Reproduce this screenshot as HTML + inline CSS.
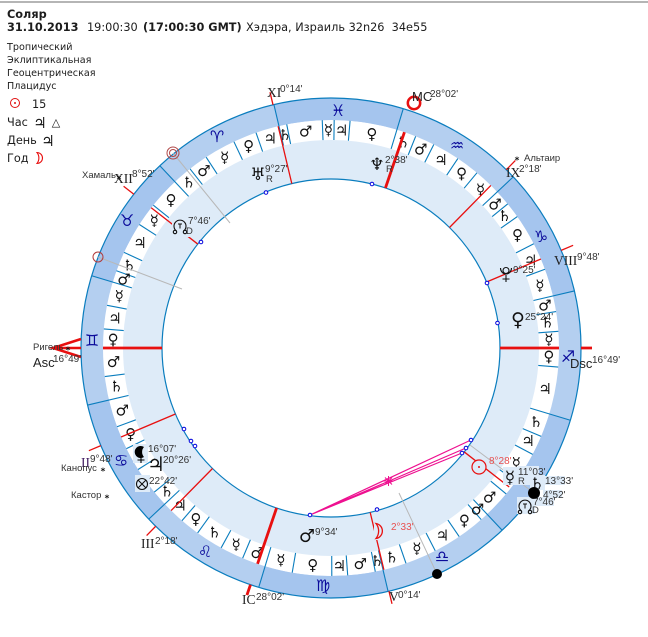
<!DOCTYPE html>
<html><head><meta charset="utf-8">
<style>
html,body{margin:0;padding:0;background:#fff;width:648px;height:637px;overflow:hidden}
svg{display:block}
text{font-family:"DejaVu Sans","Liberation Sans",sans-serif;fill:#1c1c1c}
.h{font-size:11.3px}.b{font-size:11.3px;font-weight:bold}
.m{font-size:9.6px}
.p text,.p{font-size:15px;text-anchor:middle;fill:#111}
.z text,.z{font-size:16px;text-anchor:middle;fill:#0a0a9a}
.d{font-family:"Liberation Sans",sans-serif;font-size:10px;fill:#333}
.r{font-family:"Liberation Serif",serif;font-size:13.5px;fill:#222}
.a{font-family:"Liberation Sans",sans-serif;font-size:13px;fill:#222}
.n{font-family:"Liberation Sans",sans-serif;font-size:9.5px;fill:#333}
.g{text-anchor:middle;fill:#111}
</style></head><body>
<svg width="648" height="637" viewBox="0 0 648 637" xmlns="http://www.w3.org/2000/svg">
<rect x="0" y="1" width="648" height="2" fill="#b5b5b5"/>
<text class="b" x="7" y="18">Соляр</text>
<text class="b" x="7" y="31">31.10.2013</text>
<text class="h" x="87" y="31">19:00:30</text>
<text class="b" x="143" y="31">(17:00:30 GMT)</text>
<text class="h" x="246" y="31">Хэдэра, Израиль 32n26 &#160;34e55</text>
<text class="m" x="7" y="50">Тропический</text>
<text class="m" x="7" y="63">Эклиптикальная</text>
<text class="m" x="7" y="76">Геоцентрическая</text>
<text class="m" x="7" y="89">Плацидус</text>
<circle cx="15" cy="103" r="4.5" fill="none" stroke="#e01010"/><circle cx="15" cy="103" r="1" fill="#e01010"/>
<text class="h" x="32" y="108">15</text>
<text class="h" x="7" y="126">Час</text><text class="g" x="40" y="128" font-size="15">♃</text><text class="g" x="56" y="126" font-size="11">△</text>
<text class="h" x="7" y="144">День</text><text class="g" x="48" y="146" font-size="15">♃</text>
<text class="h" x="7" y="162">Год</text>
<path d="M37 152.500A5.500 5.500 0 0 1 37 163.500A9 9 0 0 0 37 152.500Z" fill="none" stroke="#e81010" stroke-width="1.100"/>

<g transform="translate(331,348)">
<circle r="239" fill="none" stroke="#b4cff0" stroke-width="22"/>
<g fill="#a5c5ee">
<path id="sec" d="M-250 0A250 250 0 0 1 -216.500 -125L-197.500 -114A228 228 0 0 0 -228 0Z" transform="rotate(16.8)"/>
<use href="#sec" transform="rotate(-60)"/><use href="#sec" transform="rotate(-120)"/><use href="#sec" transform="rotate(-180)"/><use href="#sec" transform="rotate(-240)"/><use href="#sec" transform="rotate(-300)"/>
</g>
<circle r="188.5" fill="none" stroke="#deebf8" stroke-width="39"/>
<circle r="250" fill="none" stroke="#0a7dbe" stroke-width="1.2"/>
<circle r="169" fill="none" stroke="#0a7dbe" stroke-width="1.2"/>

<defs><path id="s" d="M-208 0H-250" stroke="#0a7dbe" stroke-width="1.1"/><path id="t" d="M-208 0H-228" stroke="#0a7dbe" stroke-width="1.1"/></defs>
<!-- sign boundaries -->
<use href="#s" transform="rotate(76.8)"/><use href="#s" transform="rotate(46.8)"/><use href="#s" transform="rotate(16.8)"/><use href="#s" transform="rotate(-13.2)"/><use href="#s" transform="rotate(-43.2)"/><use href="#s" transform="rotate(-73.2)"/><use href="#s" transform="rotate(-103.2)"/><use href="#s" transform="rotate(-133.2)"/><use href="#s" transform="rotate(-163.2)"/><use href="#s" transform="rotate(-193.2)"/><use href="#s" transform="rotate(-223.2)"/><use href="#s" transform="rotate(-253.2)"/>
<!-- term lines -->
<use href="#t" transform="rotate(70.8)"/><use href="#t" transform="rotate(64.8)"/><use href="#t" transform="rotate(56.8)"/><use href="#t" transform="rotate(51.8)"/>
<use href="#t" transform="rotate(38.8)"/><use href="#t" transform="rotate(32.8)"/><use href="#t" transform="rotate(24.8)"/><use href="#t" transform="rotate(19.8)"/>
<use href="#t" transform="rotate(10.8)"/><use href="#t" transform="rotate(4.8)"/><use href="#t" transform="rotate(-7.2)"/>
<use href="#t" transform="rotate(-20.2)"/><use href="#t" transform="rotate(-26.2)"/><use href="#t" transform="rotate(-32.2)"/><use href="#t" transform="rotate(-39.2)"/>
<use href="#t" transform="rotate(-49.2)"/><use href="#t" transform="rotate(-54.2)"/><use href="#t" transform="rotate(-61.2)"/><use href="#t" transform="rotate(-67.2)"/>
<use href="#t" transform="rotate(-80.2)"/><use href="#t" transform="rotate(-90.2)"/><use href="#t" transform="rotate(-94.2)"/><use href="#t" transform="rotate(-101.2)"/>
<use href="#t" transform="rotate(-109.2)"/><use href="#t" transform="rotate(-117.2)"/><use href="#t" transform="rotate(-124.2)"/><use href="#t" transform="rotate(-131.2)"/>
<use href="#t" transform="rotate(-140.2)"/><use href="#t" transform="rotate(-144.2)"/><use href="#t" transform="rotate(-152.2)"/><use href="#t" transform="rotate(-157.2)"/>
<use href="#t" transform="rotate(-175.2)"/><use href="#t" transform="rotate(-184.2)"/><use href="#t" transform="rotate(-189.2)"/>
<use href="#t" transform="rotate(-200.2)"/><use href="#t" transform="rotate(-207.2)"/><use href="#t" transform="rotate(-215.2)"/><use href="#t" transform="rotate(-219.2)"/>
<use href="#t" transform="rotate(-230.2)"/><use href="#t" transform="rotate(-236.2)"/><use href="#t" transform="rotate(-243.2)"/><use href="#t" transform="rotate(-248.2)"/>
<use href="#t" transform="rotate(-265.2)"/><use href="#t" transform="rotate(-269.2)"/><use href="#t" transform="rotate(-272.2)"/><use href="#t" transform="rotate(-281.2)"/>

<!-- term glyphs -->
<g class="p">
<text y="5" transform="rotate(73.8) translate(-218) rotate(-73.8)">♃</text><text y="5" transform="rotate(67.8) translate(-218) rotate(-67.8)">♀</text><text y="5" transform="rotate(60.8) translate(-218) rotate(-60.8)">☿</text><text y="5" transform="rotate(54.3) translate(-218) rotate(-54.3)">♂</text><text y="5" transform="rotate(49.3) translate(-218) rotate(-49.3)">♄</text>
<text y="5" transform="rotate(42.8) translate(-218) rotate(-42.8)">♀</text><text y="5" transform="rotate(35.8) translate(-218) rotate(-35.8)">☿</text><text y="5" transform="rotate(28.8) translate(-218) rotate(-28.8)">♃</text><text y="5" transform="rotate(22.3) translate(-218) rotate(-22.3)">♄</text><text y="5" transform="rotate(18.3) translate(-218) rotate(-18.3)">♂</text>
<text y="5" transform="rotate(13.8) translate(-218) rotate(-13.8)">☿</text><text y="5" transform="rotate(7.8) translate(-218) rotate(-7.8)">♃</text><text y="5" transform="rotate(2.3) translate(-218) rotate(-2.3)">♀</text><text y="5" transform="rotate(-3.7) translate(-218) rotate(3.7)">♂</text><text y="5" transform="rotate(-10.2) translate(-218) rotate(10.2)">♄</text>
<text y="5" transform="rotate(-16.7) translate(-218) rotate(16.7)">♂</text><text y="5" transform="rotate(-23.2) translate(-218) rotate(23.2)">♀</text><text y="5" transform="rotate(-41.2) translate(-218) rotate(41.2)">♄</text>
<text y="5" transform="rotate(-46.2) translate(-218) rotate(46.2)">♃</text><text y="5" transform="rotate(-51.7) translate(-218) rotate(51.7)">♀</text><text y="5" transform="rotate(-57.7) translate(-218) rotate(57.7)">♄</text><text y="5" transform="rotate(-64.2) translate(-218) rotate(64.2)">☿</text><text y="5" transform="rotate(-70.2) translate(-218) rotate(70.2)">♂</text>
<text y="5" transform="rotate(-76.7) translate(-218) rotate(76.7)">☿</text><text y="5" transform="rotate(-85.2) translate(-218) rotate(85.2)">♀</text><text y="5" transform="rotate(-92.2) translate(-218) rotate(92.2)">♃</text><text y="5" transform="rotate(-97.7) translate(-218) rotate(97.7)">♂</text><text y="5" transform="rotate(-102.2) translate(-218) rotate(102.2)">♄</text>
<text y="5" transform="rotate(-106.2) translate(-218) rotate(106.2)">♄</text><text y="5" transform="rotate(-113.2) translate(-218) rotate(113.2)">☿</text><text y="5" transform="rotate(-120.7) translate(-218) rotate(120.7)">♃</text><text y="5" transform="rotate(-127.7) translate(-218) rotate(127.7)">♀</text><text y="5" transform="rotate(-132.2) translate(-218) rotate(132.2)">♂</text>
<text y="5" transform="rotate(-136.7) translate(-218) rotate(136.7)">♂</text><text y="5" transform="rotate(-148.2) translate(-218) rotate(148.2)">☿</text><text y="5" transform="rotate(-154.7) translate(-218) rotate(154.7)">♃</text><text y="5" transform="rotate(-160.2) translate(-218) rotate(160.2)">♄</text>
<text y="5" transform="rotate(-169.2) translate(-218) rotate(169.2)">♃</text><text y="5" transform="rotate(-177.7) translate(-218) rotate(177.7)">♀</text><text y="5" transform="rotate(-182.2) translate(-218) rotate(182.2)">☿</text><text y="5" transform="rotate(-186.7) translate(-218) rotate(186.7)">♄</text><text y="5" transform="rotate(-191.2) translate(-218) rotate(191.2)">♂</text>
<text y="5" transform="rotate(-196.7) translate(-218) rotate(196.7)">☿</text><text y="5" transform="rotate(-203.7) translate(-218) rotate(203.7)">♃</text><text y="5" transform="rotate(-211.2) translate(-218) rotate(211.2)">♀</text><text y="5" transform="rotate(-217.2) translate(-218) rotate(217.2)">♄</text><text y="5" transform="rotate(-221.2) translate(-218) rotate(221.2)">♂</text>
<text y="5" transform="rotate(-226.7) translate(-218) rotate(226.7)">☿</text><text y="5" transform="rotate(-233.2) translate(-218) rotate(233.2)">♀</text><text y="5" transform="rotate(-239.7) translate(-218) rotate(239.7)">♃</text><text y="5" transform="rotate(-245.7) translate(-218) rotate(245.7)">♂</text><text y="5" transform="rotate(-250.7) translate(-218) rotate(250.7)">♄</text>
<text y="5" transform="rotate(-259.2) translate(-218) rotate(259.2)">♀</text><text y="5" transform="rotate(-267.2) translate(-218) rotate(267.2)">♃</text><text y="5" transform="rotate(-270.7) translate(-218) rotate(270.7)">☿</text><text y="5" transform="rotate(-276.7) translate(-218) rotate(276.7)">♂</text><text y="5" transform="rotate(-282.2) translate(-218) rotate(282.2)">♄</text>
</g>

<!-- house cusps -->
<defs>
<path id="c1" d="M-169 0H-228M-250 0H-263" stroke="#e81010" stroke-width="1.3"/>
<path id="c2" d="M-169 0H-228M-250 0H-261" stroke="#e81010" stroke-width="2.8"/>
</defs>
<use href="#c1" transform="rotate(76.59)"/><use href="#c1" transform="rotate(37.95)"/><use href="#c1" transform="rotate(134.52)"/><use href="#c1" transform="rotate(157.02)"/><use href="#c1" transform="rotate(-22.98)"/><use href="#c1" transform="rotate(-45.48)"/><use href="#c1" transform="rotate(-103.41)"/>
<path d="M-169 0H-226" stroke="#e81010" stroke-width="1.3" transform="rotate(-142.05)"/>
<use href="#c2" transform="rotate(-71.21)"/>
<path d="M-169 0H-228" stroke="#e81010" stroke-width="2.8" transform="rotate(108.79)"/>
<path d="M-169 0H-228M-250 0H-261" stroke="#e81010" stroke-width="2.8" transform="rotate(180)"/>
<path d="M-169 0H-228" stroke="#e81010" stroke-width="2.8"/>
</g>

<path d="M81 339L53 348L81 357M53 348H81" fill="none" stroke="#e81010" stroke-width="2.5"/>
<circle cx="414" cy="103" r="6.2" fill="none" stroke="#e81010" stroke-width="2.5"/>

<!-- grey lines -->
<g stroke="#b8b8b8" stroke-width="1" fill="none">
<path d="M98 257L182 289M173 153L230 223M437 574L399 493M534 493L470 445"/>
</g>
<circle cx="98" cy="257" r="5" fill="none" stroke="#b03a3a"/>
<circle cx="173" cy="153" r="6" fill="none" stroke="#b04848"/><circle cx="173" cy="153" r="3.5" fill="none" stroke="#b04848"/>
<circle cx="437" cy="574" r="5" fill="#000"/>

<!-- aspects -->
<g stroke="#ee1090" stroke-width="1.2" fill="none">
<path d="M310 515L462 453M310 515L466 448M310 515L471 440"/>
<path d="M383 481H394M388.500 476V486M385 477.500L392 484.500M385 484.500L392 477.500" stroke-width="1"/>
</g>

<!-- sign glyphs -->
<g class="z">
<text x="217" y="142">♈</text><text x="127" y="226">♉</text><text x="92" y="346">♊</text><text x="121" y="466">♋</text><text x="205" y="557">♌</text><text x="323" y="591">♍</text><text x="442" y="562">♎</text><text x="568" y="362">♐</text><text x="541" y="242">♑</text><text x="457" y="151">♒</text><text x="338" y="116">♓</text>
</g>

<!-- label backgrounds -->
<g fill="#deebf8">
<rect x="172" y="217" width="20" height="20"/>
<rect x="133" y="444" width="15" height="19"/>
<rect x="135" y="475" width="15" height="17"/>
<rect x="503" y="467" width="15" height="18"/>
<rect x="518" y="466" width="21" height="19"/>
<rect x="530" y="475" width="15" height="15"/>
<rect x="545" y="476" width="20" height="9"/>
<rect x="517" y="497" width="18" height="17"/>
<rect x="533" y="497" width="21" height="9"/>
<rect x="543" y="490" width="19" height="8"/>
<rect x="374" y="522" width="16" height="18"/>
</g>

<!-- dots -->
<g fill="#fff" stroke="#0000dd" stroke-width="1">
<circle cx="266" cy="192.500" r="1.800"/><circle cx="372" cy="184" r="1.800"/><circle cx="487" cy="283" r="1.800"/><circle cx="497.500" cy="323" r="1.800"/><circle cx="462" cy="453" r="1.800"/><circle cx="466" cy="448" r="1.800"/><circle cx="471" cy="440" r="1.800"/><circle cx="310" cy="515" r="1.800"/><circle cx="377" cy="509.500" r="1.800"/><circle cx="201" cy="242" r="1.800"/><circle cx="184" cy="429" r="1.800"/><circle cx="191" cy="441" r="1.800"/><circle cx="195" cy="446" r="1.800"/>
</g>

<!-- planets -->
<text class="g" x="258" y="180" font-size="17">♅</text><text class="d" x="265" y="172">9°27'</text><text class="n" x="266" y="182">R</text>
<text class="g" x="377" y="170" font-size="17">♆</text><text class="d" x="385" y="163">2°38'</text><text class="n" x="386" y="172">R</text>
<g fill="none" stroke="#111" stroke-width="1.100"><circle cx="506" cy="270.500" r="3"/><path d="M500.500 268A5.500 6 0 0 0 511.500 268M506 275V282M502.500 279H509.500"/></g><text class="d" x="513" y="273">9°25'</text>
<text class="g" x="518" y="326" font-size="19">♀</text><text class="d" x="525" y="320">25°24'</text>
<circle cx="479" cy="467" r="7" fill="#deebf8" stroke="#e81010" stroke-width="1.200"/><circle cx="479" cy="467" r="1" fill="#e81010"/><text class="d" x="489" y="464" style="fill:#e85050">8°28'</text>
<text class="g" x="510" y="483" font-size="17">☿</text><text class="d" x="518" y="475">11°03'</text><text class="n" x="518" y="484">R</text>
<text class="g" x="537" y="489" font-size="16">♄</text><text class="d" x="545" y="484">13°33'</text>
<circle cx="534" cy="493" r="6" fill="#000"/><text class="d" x="543" y="498">4°52'</text>
<g transform="translate(525,506)" fill="none" stroke="#111" stroke-width="1.100"><path d="M-3.500 5A6 6 0 1 1 3.500 5"/><circle cx="-5" cy="6" r="1.700"/><circle cx="5" cy="6" r="1.700"/><path d="M-2 -2H2M0 -2V2.500" stroke-width="1"/></g><text class="d" x="533" y="505">7°46'</text><text class="n" x="532" y="513">D</text>
<path d="M376 523.500A7.600 7.600 0 0 1 376 538.500A12 12 0 0 0 376 523.500Z" fill="none" stroke="#e81010" stroke-width="1.300"/><text class="d" x="391" y="530" style="fill:#e85050">2°33'</text>
<text class="g" x="307" y="542" font-size="18">♂</text><text class="d" x="315" y="535">9°34'</text>
<g transform="translate(180,226)" fill="none" stroke="#111" stroke-width="1.100"><path d="M-3.500 5A6 6 0 1 1 3.500 5"/><circle cx="-5" cy="6" r="1.700"/><circle cx="5" cy="6" r="1.700"/><path d="M-2 -2H2M0 -2V2.500" stroke-width="1"/></g><text class="d" x="188" y="224">7°46'</text><text class="n" x="186" y="234">D</text>
<path d="M144 447A6 6 0 1 0 144 457A7.500 7.500 0 0 1 144 447Z" fill="#000"/><path d="M141 457V463M137.500 460H144.500" stroke="#000" stroke-width="1.100"/><text class="d" x="148" y="452">16°07'</text>
<text class="g" x="156" y="471" font-size="20">♃</text><text class="d" x="163" y="463">20°26'</text>
<g fill="none" stroke="#111" stroke-width="1.100"><circle cx="142" cy="484" r="5.500"/><path d="M138.100 480.100L145.900 487.900M138.100 487.900L145.900 480.100"/></g><text class="d" x="149" y="484">22°42'</text>

<!-- house labels -->
<text class="r" x="267" y="97">XI</text><text class="d" x="280" y="92">0°14'</text>
<text class="a" x="412" y="101">MC</text><text class="d" x="430" y="97">28°02'</text>
<text class="r" x="506" y="177">IX</text><text class="d" x="519" y="172">2°18'</text>
<text class="r" x="554" y="265">VIII</text><text class="d" x="577" y="260">9°48'</text>
<text class="a" x="570" y="368">Dsc</text><text class="d" x="592" y="363">16°49'</text>
<text class="r" x="389" y="601" style="fill:#222">V</text><text class="d" x="398" y="598">0°14'</text>
<text class="r" x="242" y="604">IC</text><text class="d" x="256" y="600">28°02'</text>
<text class="r" x="141" y="548">III</text><text class="d" x="155" y="544">2°18'</text>
<text class="r" x="81" y="467" style="fill:#401a60">II</text><text class="d" x="90" y="462">9°48'</text>
<text class="a" x="33" y="367">Asc</text><text class="d" x="53" y="362">16°49'</text>
<text class="r" x="114" y="183">XII</text><text class="d" x="132" y="177">8°52'</text>

<!-- stars -->
<text class="n" x="33" y="350">Ригель</text><text class="g" x="68" y="353" font-size="9" font-weight="bold">*</text>
<text class="n" x="61" y="471">Канопус</text><text class="g" x="103" y="474" font-size="9" font-weight="bold">*</text>
<text class="n" x="71" y="498">Кастор</text><text class="g" x="107" y="501" font-size="9" font-weight="bold">*</text>
<text class="n" x="82" y="178">Хамаль</text><text class="g" x="119" y="182" font-size="9" font-weight="bold">*</text>
<text class="n" x="524" y="161">Альтаир</text><text class="g" x="517" y="163" font-size="9" font-weight="bold">*</text>
</svg>
</body></html>
